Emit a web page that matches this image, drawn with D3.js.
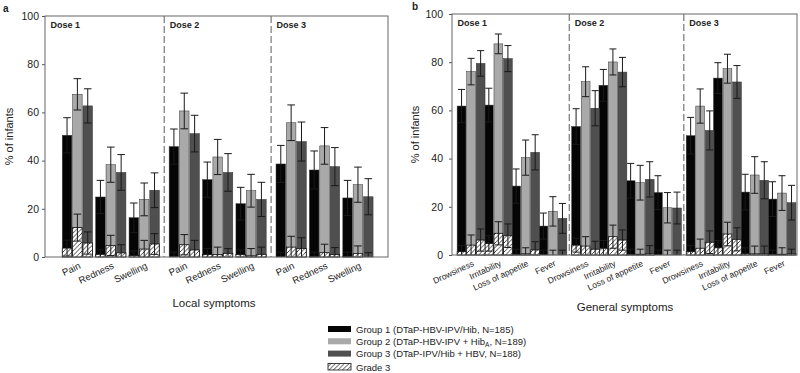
<!DOCTYPE html>
<html>
<head>
<meta charset="utf-8">
<script src="https://cdn.jsdelivr.net/npm/d3@7"></script>
<style>
    body { margin: 0; background: #fff; }
    text { font-family: "Liberation Sans", Arial, sans-serif; fill: #222; }
</style>
</head>
<body>
<div id="chart"></div>
<script>
// Categories
const doses = ['Dose 1', 'Dose 2', 'Dose 3'];
const localSymptoms = ['Pain', 'Redness', 'Swelling'];
const generalSymptoms = ['Drowsiness', 'Irritability', 'Loss of appetite', 'Fever'];
const yTicks = [0, 20, 40, 60, 80, 100];
const groupNames = ['Group 1 (DTaP-HBV-IPV/Hib, N=185)', 'Group 2 (DTaP-HBV-IPV + Hib', 'Group 3 (DTaP-IPV/Hib + HBV, N=188)'];

// Local symptoms, dose-major order (Pain, Redness, Swelling per dose)
const localG1 = [50.5, 24.9, 16.3, 45.8, 32.1, 22.1, 38.6, 36.1, 24.5];
const localG1Hi = [57.8, 31.8, 22.4, 53.1, 39.4, 28.9, 46.3, 44.0, 31.8];
const localG2 = [67.5, 38.3, 23.9, 60.6, 41.5, 27.5, 55.7, 46.1, 30.0];
const localG2Hi = [74.0, 45.6, 30.7, 68.0, 48.8, 34.3, 63.1, 53.7, 37.3];
const localG3 = [62.7, 35.1, 27.7, 51.2, 35.1, 23.9, 47.9, 37.5, 25.0];
const localG3Hi = [69.8, 42.5, 34.9, 58.8, 42.9, 31.0, 56.0, 45.4, 32.5];
// Grade 3 local symptoms
const localG1Gr3 = [3.7, 1.1, 0.6, 0, 1.0, 1.0, 0, 0.3, 0.3];
const localG1Gr3Hi = [7.0, 3.0, 2.5, 2.0, 3.5, 3.0, 2.0, 2.0, 2.0];
const localG2Gr3 = [12.2, 4.8, 3.3, 5.1, 1.0, 0.5, 4.1, 1.8, 1.4];
const localG2Gr3Hi = [17.8, 9.0, 6.9, 9.3, 4.1, 3.5, 8.6, 5.3, 4.6];
const localG3Gr3 = [5.8, 1.7, 5.4, 2.9, 1.5, 1.1, 3.5, 1.0, 0];
const localG3Gr3Hi = [10.4, 5.1, 9.7, 6.9, 3.5, 4.1, 8.0, 3.9, 1.8];

// General symptoms, dose-major order
const genG1 = [61.8, 62.2, 28.6, 12.0, 53.3, 70.4, 30.8, 25.9, 49.5, 73.4, 26.1, 23.2];
const genG1Hi = [68.7, 69.2, 35.7, 17.4, 60.7, 77.0, 38.0, 32.9, 57.1, 79.8, 33.5, 30.4];
const genG2 = [76.1, 87.6, 40.4, 18.1, 71.9, 80.1, 30.0, 19.6, 61.8, 77.3, 33.2, 25.7];
const genG2Hi = [81.6, 91.7, 47.7, 24.2, 78.1, 85.5, 37.2, 25.9, 68.9, 83.3, 40.8, 32.9];
const genG3 = [79.5, 81.5, 42.6, 15.2, 60.9, 75.9, 31.4, 19.5, 51.7, 71.8, 31.0, 21.7];
const genG3Hi = [84.8, 86.9, 49.9, 21.4, 68.2, 82.0, 38.7, 26.1, 59.8, 78.6, 38.7, 28.9];
// Grade 3 general symptoms
const genG1Gr3 = [1.4, 4.8, 0.3, 0, 4.1, 2.8, 0.3, 0, 1.4, 3.0, 0.5, 0.3];
const genG1Gr3Hi = [4.0, 8.0, 2.4, 2.0, 7.0, 6.0, 2.4, 2.0, 4.0, 6.0, 3.0, 2.0];
const genG2Gr3 = [4.1, 9.0, 0.5, 0, 3.7, 7.6, 0.3, 0, 2.8, 8.7, 0.5, 0.3];
const genG2Gr3Hi = [8.3, 13.8, 3.0, 2.0, 7.6, 12.4, 2.4, 2.0, 6.6, 13.6, 3.7, 3.0];
const genG3Gr3 = [6.2, 8.0, 2.1, 0, 2.4, 6.2, 0.5, 0, 5.3, 6.5, 0.5, 0.5];
const genG3Gr3Hi = [10.8, 12.9, 5.5, 2.0, 5.7, 10.4, 3.9, 2.0, 10.0, 11.3, 3.7, 2.4];

const groupColors = ['#050505', '#a9a9a9', '#4f4f4f'];

const svg = d3.select('#chart')
    .append('svg')
    .attr('width', 800)
    .attr('height', 373);

// hatch pattern for grade 3
const pattern = svg.append('defs').append('pattern')
    .attr('id', 'hatch')
    .attr('patternUnits', 'userSpaceOnUse')
    .attr('width', 4.5)
    .attr('height', 4.5);
pattern.append('rect').attr('width', 4.5).attr('height', 4.5).attr('fill', '#fff');
pattern.append('path')
    .attr('d', 'M-1,1 l2,-2 M0,4.5 l4.5,-4.5 M3.5,5.5 l2,-2')
    .attr('stroke', '#111')
    .attr('stroke-width', 0.8);

function drawPanel(p) {
    const nSym = p.symptoms.length;
    const x = d3.scaleLinear().domain(p.xDomain).range([p.left, p.right]);
    const y = d3.scaleLinear().domain([0, 100]).range([p.bottom, p.top]);
    const g = svg.append('g');

    // one row per dose/symptom
    const rows = [];
    doses.forEach((dose, d) => {
        p.symptoms.forEach((sym, s) => {
            rows.push({ i: d * nSym + s, sym: sym, pos: d * (nSym + p.doseGap) + s });
        });
    });

    const slot = x(1) - x(0);
    const step = slot * p.stepFrac;
    const bw = step * 0.92;

    // y axis
    g.append('g')
        .attr('transform', `translate(${p.left},0)`)
        .call(d3.axisLeft(y).tickValues(yTicks).tickSize(3).tickPadding(p.tickPad))
        .call(a => a.select('.domain').remove())
        .call(a => a.selectAll('line').attr('stroke', '#555'))
        .call(a => a.selectAll('text').attr('font-size', 10.5).attr('fill', '#222')
            .style('font-family', '"Liberation Sans", Arial, sans-serif'));

    // bars, grade 3 bars and error bars per group
    p.series.forEach((ser, k) => {
        const off = (k - 1) * step - bw / 2;
        g.append('g').selectAll('rect')
            .data(rows)
            .join('rect')
            .attr('x', d => x(d.pos) + off)
            .attr('y', d => y(ser.v[d.i]))
            .attr('width', bw)
            .attr('height', d => y(0) - y(ser.v[d.i]))
            .attr('fill', groupColors[k])
            .attr('stroke', '#333')
            .attr('stroke-width', 0.5);

        drawErr(g, rows, d => x(d.pos) + off + bw / 2, y, ser.v, ser.hi, bw);

        g.append('g').selectAll('rect')
            .data(rows.filter(d => ser.g3[d.i] > 0))
            .join('rect')
            .attr('x', d => x(d.pos) + off)
            .attr('y', d => y(ser.g3[d.i]))
            .attr('width', bw)
            .attr('height', d => y(0) - y(ser.g3[d.i]))
            .attr('fill', 'url(#hatch)')
            .attr('stroke', '#111')
            .attr('stroke-width', 0.8);

        drawErr(g, rows, d => x(d.pos) + off + bw / 2, y, ser.g3, ser.g3hi, bw);
    });

    // frame
    g.append('rect')
        .attr('x', p.left).attr('y', p.top)
        .attr('width', p.right - p.left).attr('height', p.bottom - p.top)
        .attr('fill', 'none')
        .attr('stroke', '#666')
        .attr('stroke-width', 1);

    // dose separators and labels
    doses.forEach((dose, d) => {
        const start = d === 0 ? p.xDomain[0] : d * (nSym + p.doseGap) - (p.doseGap + 1) / 2;
        if (d > 0) {
            g.append('line')
                .attr('x1', x(start)).attr('x2', x(start))
                .attr('y1', p.top).attr('y2', p.bottom)
                .attr('stroke', '#777')
                .attr('stroke-width', 1.2)
                .attr('stroke-dasharray', '7,3');
        }
        g.append('text')
            .attr('x', x(start) + 5.5)
            .attr('y', p.top + 12)
            .attr('font-size', 9)
            .attr('font-weight', 'bold')
            .text(dose);
    });

    // category labels
    g.append('g').selectAll('text')
        .data(rows)
        .join('text')
        .attr('transform', d => `translate(${x(d.pos) + 1},${p.bottom + 5}) rotate(-25)`)
        .attr('text-anchor', 'end')
        .attr('dy', '0.7em')
        .attr('font-size', p.catFont)
        .text(d => d.sym);

    // axis titles
    g.append('text')
        .attr('transform', `translate(${p.yTitleX},${(p.top + p.bottom) / 2}) rotate(-90)`)
        .attr('text-anchor', 'middle')
        .attr('font-size', 11)
        .text('% of infants');

    g.append('text')
        .attr('x', p.xTitleX)
        .attr('y', p.xTitleY)
        .attr('text-anchor', 'middle')
        .attr('font-size', 11.5)
        .text(p.xTitle);

    g.append('text')
        .attr('x', p.letterX)
        .attr('y', p.letterY)
        .attr('font-size', 10)
        .attr('font-weight', 'bold')
        .text(p.letter);
}

// symmetric error bar with caps
function drawErr(g, rows, cx, y, vals, his, bw) {
    const cap = bw * 0.4;
    const eg = g.append('g').attr('stroke', '#1a1a1a').attr('stroke-width', 1);
    rows.forEach(d => {
        const v = vals[d.i];
        const hi = his[d.i];
        const lo = Math.max(0, 2 * v - hi);
        const xc = cx(d);
        eg.append('line').attr('x1', xc).attr('x2', xc).attr('y1', y(hi)).attr('y2', y(lo));
        eg.append('line').attr('x1', xc - cap).attr('x2', xc + cap).attr('y1', y(hi)).attr('y2', y(hi));
        if (lo > 0) {
            eg.append('line').attr('x1', xc - cap).attr('x2', xc + cap).attr('y1', y(lo)).attr('y2', y(lo));
        }
    });
}

drawPanel({
    symptoms: localSymptoms,
    series: [
        { v: localG1, hi: localG1Hi, g3: localG1Gr3, g3hi: localG1Gr3Hi },
        { v: localG2, hi: localG2Hi, g3: localG2Gr3, g3hi: localG2Gr3Hi },
        { v: localG3, hi: localG3Hi, g3: localG3Gr3, g3hi: localG3Gr3Hi }
    ],
    xDomain: [-0.97, 9.3], doseGap: 0.2, stepFrac: 0.31,
    left: 45, right: 388, top: 16, bottom: 257, tickPad: 3,
    catFont: 9.5, yTitleX: 13, xTitle: 'Local symptoms', xTitleX: 214, xTitleY: 307,
    letter: 'a', letterX: 3, letterY: 12
});

drawPanel({
    symptoms: generalSymptoms,
    series: [
        { v: genG1, hi: genG1Hi, g3: genG1Gr3, g3hi: genG1Gr3Hi },
        { v: genG2, hi: genG2Hi, g3: genG2Gr3, g3hi: genG2Gr3Hi },
        { v: genG3, hi: genG3Hi, g3: genG3Gr3, g3hi: genG3Gr3Hi }
    ],
    xDomain: [-0.7, 11.95], doseGap: 0.2, stepFrac: 0.35,
    left: 452, right: 797, top: 14, bottom: 255, tickPad: 6,
    catFont: 8.5, yTitleX: 419, xTitle: 'General symptoms', xTitleX: 625, xTitleY: 311,
    letter: 'b', letterX: 412, letterY: 10
});

// Legend
const legend = svg.append('g').attr('transform', 'translate(328,326)');
groupNames.forEach((name, k) => {
    const ly = k * 12.3;
    legend.append('rect')
        .attr('x', 0).attr('y', ly)
        .attr('width', 23).attr('height', 6)
        .attr('fill', groupColors[k]);
    const t = legend.append('text')
        .attr('x', 28).attr('y', ly + 6.5)
        .attr('font-size', 9.5)
        .text(name);
    if (k === 1) {
        t.append('tspan').attr('font-size', 6.5).attr('dy', 2).text('A');
        t.append('tspan').attr('dy', -2).text(', N=189)');
    }
});
legend.append('rect')
    .attr('x', 0).attr('y', 37.5)
    .attr('width', 23).attr('height', 6.5)
    .attr('fill', 'url(#hatch)')
    .attr('stroke', '#111')
    .attr('stroke-width', 0.8);
legend.append('text')
    .attr('x', 28).attr('y', 44.5)
    .attr('font-size', 9.5)
    .text('Grade 3');
</script>
</body>
</html>
